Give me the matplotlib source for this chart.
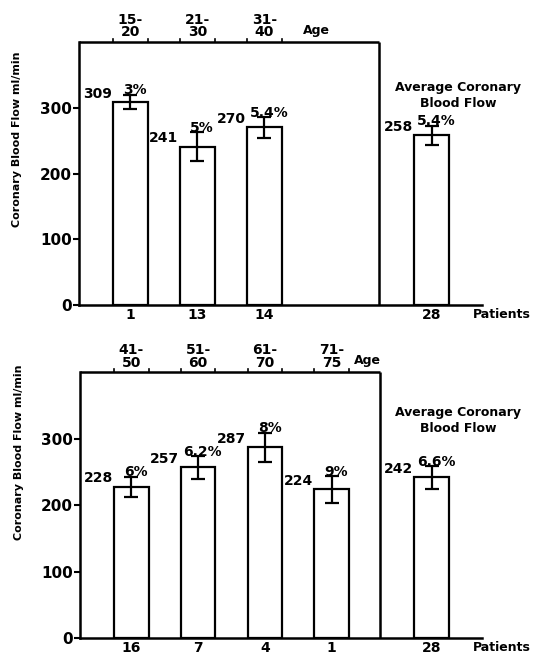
import matplotlib
matplotlib.use("Agg")
import matplotlib.pyplot as plt

# ---- data ----
top_ages = ["15-\n20", "21-\n30", "31-\n40"]
top_patients = ["1", "13", "14"]
top_flow = [309, 241, 270]
top_err = [11, 22, 16]
top_pct = ["3%", "5%", "5.4%"]
top_avg = 258
top_avg_err = 15
top_avg_pct = "5.4%"
top_avg_n = "28"

bot_ages = ["41-\n50", "51-\n60", "61-\n70", "71-\n75"]
bot_patients = ["16", "7", "4", "1"]
bot_flow = [228, 257, 287, 224]
bot_err = [15, 17, 22, 20]
bot_pct = ["6%", "6.2%", "8%", "9%"]
bot_avg = 242
bot_avg_err = 17
bot_avg_pct = "6.6%"
bot_avg_n = "28"

plt.rcParams["font.family"] = "DejaVu Sans"
plt.rcParams["font.weight"] = "bold"

fig = plt.figure(figsize=(5.33, 6.56), dpi=100)

BAR_W = 0.52
AVG_X = 4.5
BOX_R = 3.72
XMIN, XMAX = -0.77, 5.25
YTOP = 400


def panel(ax, ages, patients, flow, err, pct, avg, avg_err, avg_pct, avg_n,
          age_x, avg_title_y, ylab_y):
    xs = list(range(len(flow)))
    all_x = xs + [AVG_X]
    all_y = flow + [avg]
    all_e = err + [avg_err]
    all_p = pct + [avg_pct]
    ax.bar(all_x, all_y, width=BAR_W, color="white", edgecolor="black", linewidth=1.6)
    ax.errorbar(all_x, all_y, yerr=all_e, fmt="none", ecolor="black",
                elinewidth=1.6, capsize=5, capthick=1.6)
    for x, y, e, p in zip(all_x, all_y, all_e, all_p):
        ax.text(x - BAR_W / 2 - 0.02, y + 2, str(y), ha="right", va="bottom",
                fontsize=10, fontweight="bold")
        ax.text(x + 0.07, y + e - 4, p, ha="center", va="bottom",
                fontsize=10, fontweight="bold")
    # box around the age groups
    ax.set_xlim(XMIN, XMAX)
    ax.set_ylim(0, YTOP)
    ax.spines["top"].set_visible(False)
    ax.spines["right"].set_visible(False)
    ax.spines["left"].set_linewidth(1.8)
    ax.spines["bottom"].set_linewidth(1.8)
    ax.hlines(YTOP, XMIN, BOX_R, color="black", linewidth=1.8, clip_on=False)
    ax.vlines(BOX_R, 0, YTOP, color="black", linewidth=1.8, clip_on=False)
    # small ticks at bar edges on the top line
    for i, x in enumerate(xs):
        for ex in (x - BAR_W / 2, x + BAR_W / 2):
            ax.plot([ex, ex], [YTOP, YTOP + 5], color="black", lw=1.2, clip_on=False)
        ax.text(x, YTOP + 4, ages[i], ha="center", va="bottom",
                fontsize=10, fontweight="bold", linespacing=0.85)
    ax.text(age_x, YTOP + 8, "Age", ha="left", va="bottom", fontsize=9, fontweight="bold")
    ax.text(AVG_X + 0.4, avg_title_y, "Average Coronary\nBlood Flow", ha="center",
            va="center", fontsize=9, fontweight="bold", linespacing=1.3)
    ax.set_yticks([0, 100, 200, 300])
    ax.tick_params(axis="y", length=4, width=1.5, labelsize=11, pad=1)
    ax.set_xticks(all_x)
    ax.set_xticklabels(patients + [avg_n], fontsize=10, fontweight="bold")
    ax.tick_params(axis="x", length=0, pad=2)
    ax.text(5.12, -15, "Patients", ha="left", va="center", fontsize=9,
            fontweight="bold", clip_on=False)
    ax.set_ylabel("Coronary Blood Flow ml/min", fontsize=8, fontweight="bold")
    ax.yaxis.set_label_coords(-0.14, ylab_y)


ax1 = fig.add_axes([0.148, 0.535, 0.756, 0.401])
panel(ax1, top_ages, top_patients, top_flow, top_err, top_pct,
      top_avg, top_avg_err, top_avg_pct, top_avg_n, 2.58, 318, 0.63)

ax2 = fig.add_axes([0.150, 0.0274, 0.754, 0.405])
panel(ax2, bot_ages, bot_patients, bot_flow, bot_err, bot_pct,
      bot_avg, bot_avg_err, bot_avg_pct, bot_avg_n, 3.33, 327, 0.70)

fig.savefig("out.png", dpi=100)
